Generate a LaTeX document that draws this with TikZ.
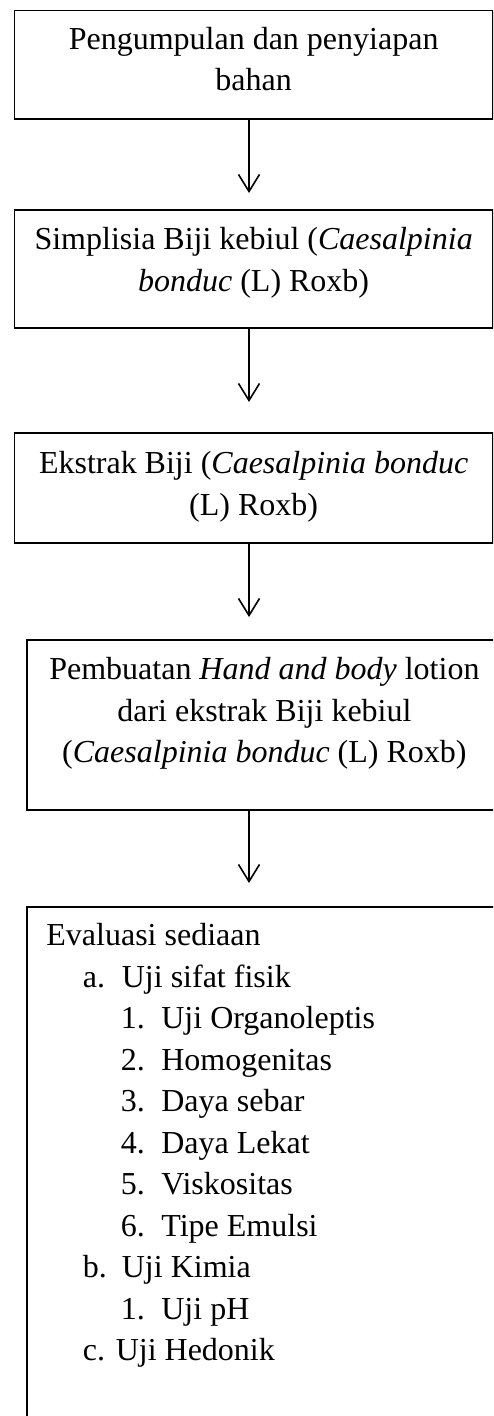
\documentclass[tikz,border=0pt]{standalone}
\usepackage{fontspec}
\setmainfont{Liberation Serif}
\usetikzlibrary{arrows.meta}

% one line of the evaluation list: indent, label box, text
\newcommand{\evitem}[3]{\hspace*{#1}\makebox[#2][l]{#3}}

\begin{document}
\begin{tikzpicture}[x=1pt,y=-1pt,
  stage/.style={draw=black, line width=1.8pt, inner sep=0pt, anchor=north west,
    font=\fontsize{32}{41.5}\selectfont},
  flow/.style={line width=1.6pt,
    -{Straight Barb[length=17pt,width=21pt,line width=1.6pt]}}]

\path[use as bounding box, clip] (0,0) rectangle (493,1416);

% process stages
\node[stage] (s1) at (13.5,9.5)
  {\parbox[t][108.5pt][t]{478.5pt}{\centering\rule{0pt}{39pt}Pengumpulan dan penyiapan\\bahan}};
\node[stage] (s2) at (13.5,209)
  {\parbox[t][118pt][t]{478.5pt}{\centering\rule{0pt}{40pt}Simplisia Biji kebiul (\textit{Caesalpinia}\\\textit{bonduc} (L) Roxb)}};
\node[stage] (s3) at (13.5,432)
  {\parbox[t][110pt][t]{478.5pt}{\centering\rule{0pt}{41pt}Ekstrak Biji (\textit{Caesalpinia bonduc}\\(L) Roxb)}};
\node[stage] (s4) at (26,639)
  {\parbox[t][170pt][t]{475pt}{\centering\rule{0pt}{40pt}Pembuatan \textit{Hand and body} lotion\\dari ekstrak Biji kebiul\\(\textit{Caesalpinia bonduc} (L) Roxb)}};
\node[stage] (s5) at (26,906)
  {\parbox[t][530pt][t]{475pt}{\raggedright\rule{0pt}{39pt}%
    \hspace*{19.5pt}Evaluasi sediaan\\
    \evitem{56pt}{39pt}{a.}Uji sifat fisik\\
    \evitem{94pt}{40.5pt}{1.}Uji Organoleptis\\
    \evitem{94pt}{40.5pt}{2.}Homogenitas\\
    \evitem{94pt}{40.5pt}{3.}Daya sebar\\
    \evitem{94pt}{40.5pt}{4.}Daya Lekat\\
    \evitem{94pt}{40.5pt}{5.}Viskositas\\
    \evitem{94pt}{40.5pt}{6.}Tipe Emulsi\\
    \evitem{56pt}{39pt}{b.}Uji Kimia\\
    \evitem{94pt}{40.5pt}{1.}Uji pH\\
    \hspace*{56pt}c. Uji Hedonik}};

% connectors share one vertical line
\coordinate (ax) at (249,0);
\draw[flow, shorten >=16pt] (s1.south -| ax) -- (s2.north -| ax);
\draw[flow, shorten >=30pt] (s2.south -| ax) -- (s3.north -| ax);
\draw[flow, shorten >=22pt] (s3.south -| ax) -- (s4.north -| ax);
\draw[flow, shorten >=23pt] (s4.south -| ax) -- (s5.north -| ax);
\end{tikzpicture}
\end{document}
